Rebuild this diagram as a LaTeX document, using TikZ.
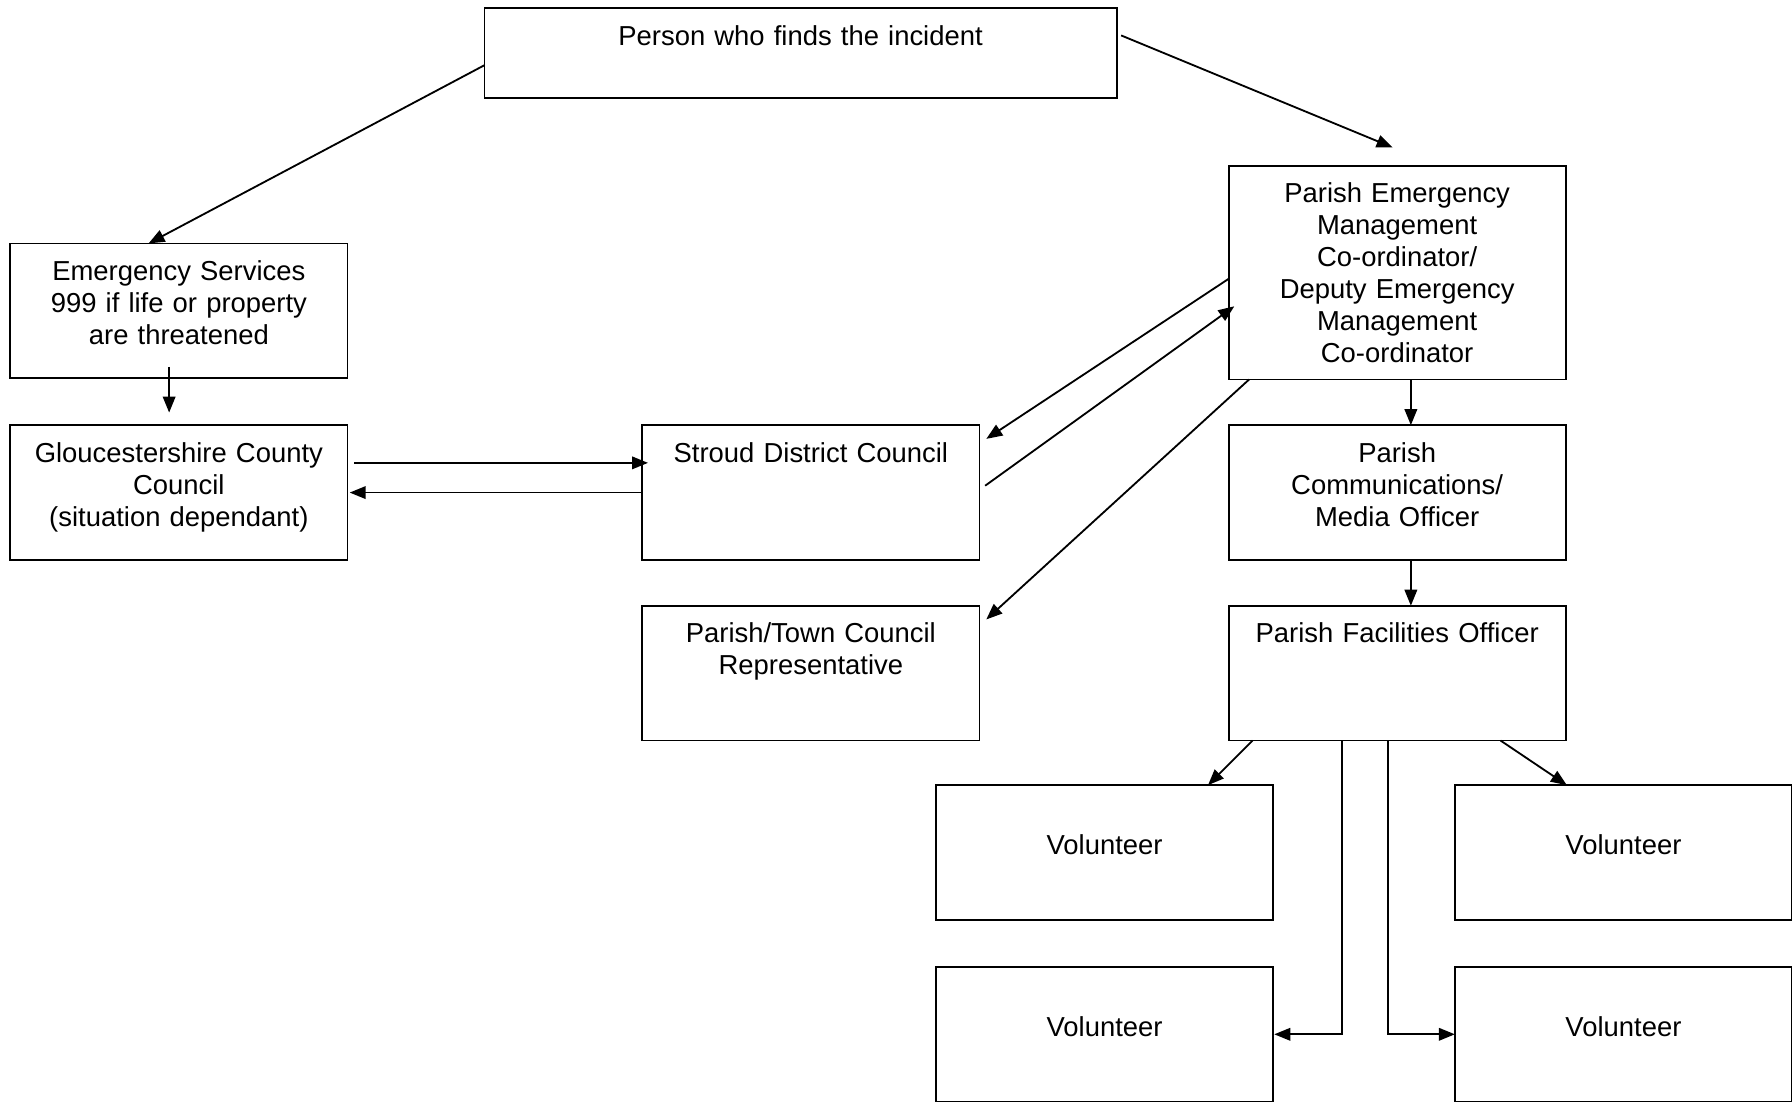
\documentclass[tikz,border=0pt]{standalone}
\usepackage{fontspec}
\setmainfont{Liberation Sans}
\usetikzlibrary{arrows.meta}
\tikzset{
  box/.style={draw, line width=0.8pt, inner sep=0pt, outer sep=0pt, anchor=north west, align=center,
    text width=147.5pt, text height=16.25pt, text depth=42.75pt,
    font=\fontsize{12}{14}\selectfont},
  volbox/.style={box, text height=30.25pt, text depth=28.75pt},
}
\begin{document}
\begin{tikzpicture}[x=0.5pt, y=-0.5pt, line width=0.8pt, >={Triangle[length=7pt,width=5.5pt]}]
\clip (0,0) rectangle (1568,964);
\node[box, text width=276.5pt, text depth=23.25pt] (person) at (424,7) {Person who finds the incident};
\node[box] (emerg) at (9,213) {Emergency Services\\999 if life or property\\are threatened};
\node[box] (glos) at (9,372) {Gloucestershire County\\Council\\(situation dependant)};
\node[box] (stroud) at (562,372) {Stroud District Council};
\node[box] (parishrep) at (562,530) {Parish/Town Council\\Representative};
\node[box, text depth=77.25pt] (pemc) at (1075,145) {Parish Emergency\\Management\\Co-ordinator/\\Deputy Emergency\\Management\\Co-ordinator};
\node[box] (media) at (1075,372) {Parish\\Communications/\\Media Officer};
\node[box] (facil) at (1075,530) {Parish Facilities Officer};
\node[volbox] (vol1) at (819,687) {Volunteer};
\node[volbox] (vol2) at (1273,687) {Volunteer};
\node[volbox] (vol3) at (819,846) {Volunteer};
\node[volbox] (vol4) at (1273,846) {Volunteer};
% from the person
\draw[->] ([yshift=-5.25pt]person.west) to ([xshift=-13.25pt]emerg.north);
\draw[->] ([xshift=2pt,yshift=7.75pt]person.east) to ([xshift=-2pt,yshift=8pt]pemc.north);
% left side
\draw[->] ([xshift=-4.25pt,yshift=5pt]emerg.south) to ([xshift=-4.25pt,yshift=5.5pt]glos.north);
\draw[->] ([xshift=3pt,yshift=13pt]glos.east) to ([xshift=2.5pt,yshift=13pt]stroud.west);
\draw[->] (stroud.west) to ([xshift=1pt]glos.east);
% co-ordinator
\draw[->] ([yshift=-2.75pt]pemc.west) to ([xshift=3pt,yshift=-6pt]stroud.north east);
\draw[->] ([xshift=2.5pt,yshift=3pt]stroud.east) to ([xshift=2.5pt,yshift=-14.75pt]pemc.west);
\draw[->] ([xshift=9pt]pemc.south west) to ([xshift=3pt,yshift=-6pt]parishrep.north east);
\draw[->] ([xshift=6pt]pemc.south) to ([xshift=6pt]media.north);
\draw[->] ([xshift=6pt]media.south) to ([xshift=6pt]facil.north);
% volunteers
\draw[->] ([xshift=10.5pt]facil.south west) to ([xshift=-28.5pt]vol1.north east);
\draw[->] ([xshift=-28.5pt]facil.south east) to ([xshift=49pt]vol2.north west);
\draw[->] ([xshift=-24pt]facil.south) |- ([xshift=0.5pt]vol3.east);
\draw[->] ([xshift=-4pt]facil.south) |- (vol4.west);
\end{tikzpicture}
\end{document}
